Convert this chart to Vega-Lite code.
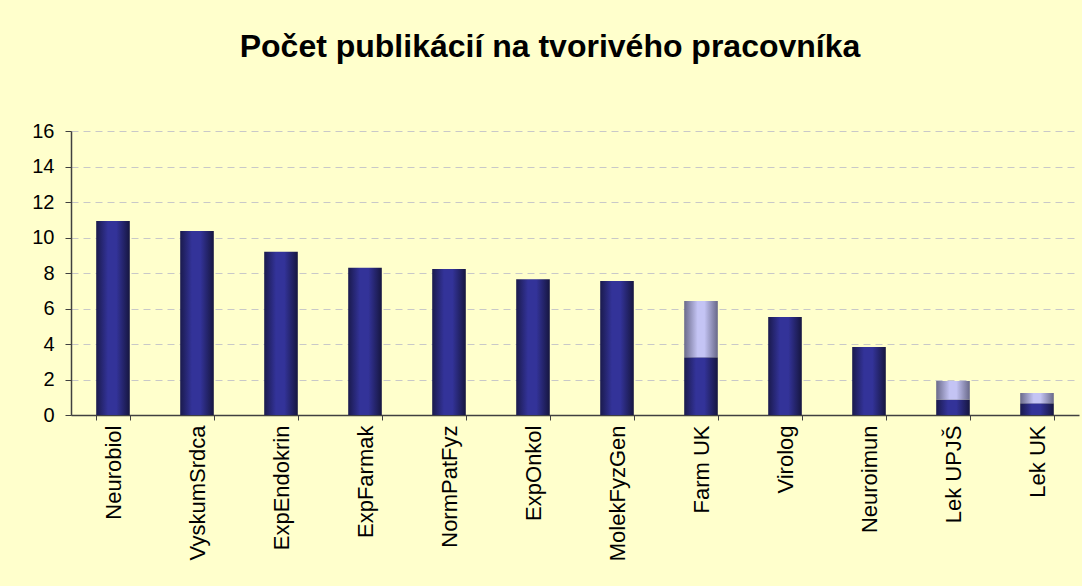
{
  "$schema": "https://vega.github.io/schema/vega-lite/v6.json",
  "width": 1008,
  "height": 284,
  "autosize": {"type": "none"},
  "padding": {"left": 71, "top": 131, "right": 3, "bottom": 171},
  "background": "#FFFFCC",
  "title": {
    "text": "Počet publikácií na tvorivého pracovníka",
    "font": "Liberation Sans",
    "fontSize": 32,
    "fontWeight": "bold",
    "color": "#000000",
    "anchor": "middle",
    "dx": -25,
    "offset": 57
  },
  "config": {
    "view": {"stroke": null}
  },
  "data": {
    "values": [
      {"name": "Neurobiol", "dark": 10.93, "total": 10.93},
      {"name": "VyskumSrdca", "dark": 10.37, "total": 10.37},
      {"name": "ExpEndokrin", "dark": 9.2, "total": 9.2},
      {"name": "ExpFarmak", "dark": 8.3, "total": 8.3},
      {"name": "NormPatFyz", "dark": 8.22, "total": 8.22},
      {"name": "ExpOnkol", "dark": 7.65, "total": 7.65},
      {"name": "MolekFyzGen", "dark": 7.55, "total": 7.55},
      {"name": "Farm UK", "dark": 3.25, "total": 6.42},
      {"name": "Virolog", "dark": 5.52, "total": 5.52},
      {"name": "Neuroimun", "dark": 3.83, "total": 3.83},
      {"name": "Lek UPJŠ", "dark": 0.88, "total": 1.92},
      {"name": "Lek UK", "dark": 0.66, "total": 1.24}
    ]
  },
  "encoding": {
    "x": {
      "field": "name",
      "type": "nominal",
      "sort": null,
      "scale": {"paddingInner": 0.6, "paddingOuter": 0.3},
      "axis": {
        "title": null,
        "labelFont": "Liberation Sans",
        "labelFontSize": 22,
        "labelColor": "#000000",
        "labelAngle": -90,
        "labelAlign": "right",
        "labelBaseline": "middle",
        "labelPadding": 5,
        "labelLimit": 300,
        "tickBand": "extent",
        "tickSize": 5,
        "tickColor": "#404040",
        "domainColor": "#404040",
        "domainWidth": 1.5
      }
    },
    "y": {
      "field": "dark",
      "type": "quantitative",
      "scale": {"domain": [0, 16]},
      "axis": {
        "title": null,
        "values": [0, 2, 4, 6, 8, 10, 12, 14, 16],
        "labelFont": "Liberation Sans",
        "labelFontSize": 20,
        "labelColor": "#000000",
        "labelOverlap": false,
        "grid": true,
        "gridColor": "#c8c8c8",
        "gridDash": [7, 5],
        "gridWidth": 1,
        "tickSize": 6,
        "tickColor": "#404040",
        "labelPadding": 11,
        "domainColor": "#404040",
        "domainWidth": 1.5
      }
    }
  },
  "layer": [
    {
      "mark": {
        "type": "bar",
        "color": {
          "gradient": "linear",
          "x1": 0, "x2": 1, "y1": 0, "y2": 0,
          "stops": [
            {"offset": 0, "color": "#1a1a4d"},
            {"offset": 0.35, "color": "#333399"},
            {"offset": 0.6, "color": "#333399"},
            {"offset": 1, "color": "#16163f"}
          ]
        }
      }
    },
    {
      "transform": [{"filter": "datum.total > datum.dark"}],
      "mark": {
        "type": "bar",
        "color": {
          "gradient": "linear",
          "x1": 0, "x2": 1, "y1": 0, "y2": 0,
          "stops": [
            {"offset": 0, "color": "#6a6a8a"},
            {"offset": 0.4, "color": "#c4c4f4"},
            {"offset": 0.6, "color": "#c4c4f4"},
            {"offset": 1, "color": "#686888"}
          ]
        }
      },
      "encoding": {
        "y2": {"field": "total"}
      }
    }
  ]
}
